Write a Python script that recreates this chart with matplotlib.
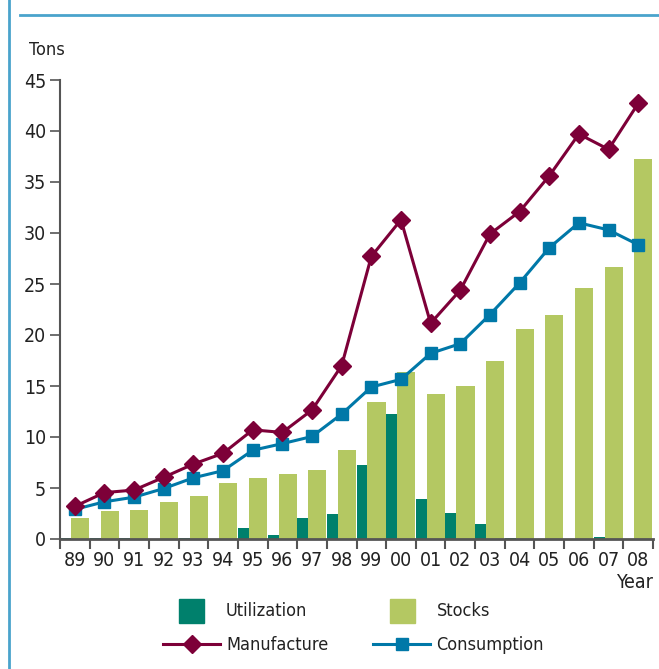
import numpy as np
import matplotlib
matplotlib.use('Agg')
import matplotlib.pyplot as plt
from matplotlib.patches import Rectangle
from matplotlib.lines import Line2D

plt.rcParams['font.family'] = ['DejaVu Sans']
plt.rcParams['font.stretch'] = 'condensed'

# Data
years = ['89', '90', '91', '92', '93', '94', '95', '96', '97', '98',
         '99', '00', '01', '02', '03', '04', '05', '06', '07', '08']
utilization = [0.05, 0.05, 0.05, 0.0, 0.05, 0.0, 1.1, 0.4, 2.1, 2.45,
               7.25, 12.25, 3.9, 2.55, 1.45, 0.05, 0.0, 0.0, 0.2, 0.0]
stocks = [2.05, 2.75, 2.85, 3.65, 4.2, 5.5, 6.0, 6.4, 6.75, 8.7,
          13.4, 16.4, 14.2, 15.0, 17.45, 20.6, 21.95, 24.6, 26.65, 37.25]
manufacture = [3.2, 4.55, 4.8, 6.05, 7.35, 8.4, 10.7, 10.45, 12.65, 17.0,
               27.7, 31.3, 21.15, 24.4, 29.9, 32.1, 35.6, 39.7, 38.2, 42.7]
consumption = [2.9, 3.65, 4.1, 4.95, 6.0, 6.7, 8.7, 9.35, 10.05, 12.25,
               14.9, 15.65, 18.2, 19.15, 22.0, 25.1, 28.55, 31.0, 30.3, 28.85]

c_util = '#00806c'
c_stock = '#b4c862'
c_manu = '#7d0038'
c_cons = '#0078a8'
c_frame = '#4aa3cc'
c_axis = '#555555'
c_text = '#222222'

W, H = 659, 669
fig = plt.figure(figsize=(W / 100, H / 100), dpi=100)
ax = fig.add_axes([60 / W, (H - 539) / H, 593 / W, 459 / H])

x = np.arange(len(years))
ax.bar(x - 0.5, utilization, width=0.37, align='edge', color=c_util, zorder=2)
ax.bar(x - 0.13, stocks, width=0.61, align='edge', color=c_stock, zorder=2)
ax.plot(x, manufacture, color=c_manu, lw=2.2, marker='D', ms=9, zorder=4)
ax.plot(x, consumption, color=c_cons, lw=2.2, marker='s', ms=9, zorder=3)

ax.set_xlim(-0.5, len(years) - 0.5)
ax.set_ylim(0, 45)
ax.set_yticks(range(0, 50, 5))
ax.set_xticks(np.arange(-0.5, len(years), 1.0))
ax.set_xticklabels([])
ax.set_xticks(x, minor=True)
ax.set_xticklabels(years, minor=True)
ax.tick_params(axis='x', which='major', direction='out', length=7, width=1.5, color=c_axis)
ax.tick_params(axis='x', which='minor', length=0, pad=9, labelsize=14, labelcolor=c_text)
ax.tick_params(axis='y', direction='out', length=7, width=1.2, color=c_axis,
               labelsize=14, labelcolor=c_text, pad=3)
for s in ['top', 'right']:
    ax.spines[s].set_visible(False)
ax.spines['left'].set_color(c_axis)
ax.spines['left'].set_linewidth(1.5)
ax.spines['bottom'].set_color(c_axis)
ax.spines['bottom'].set_linewidth(2)
ax.spines['bottom'].set_zorder(5)

fig.text(47 / W, 1 - 50 / H, 'Tons', ha='center', va='center', fontsize=13, color=c_text)
fig.text(653 / W, 1 - 583 / H, 'Year', ha='right', va='center', fontsize=14, color=c_text)

# frame lines
fig.add_artist(Line2D([9 / W, 9 / W], [0, 1], color=c_frame, lw=2))
fig.add_artist(Line2D([20 / W, 1], [1 - 15 / H, 1 - 15 / H], color=c_frame, lw=2))

# legend
def px(xp, yp):
    return xp / W, 1 - yp / H

for (x0, lab, col) in [(179, 'Utilization', c_util), (390, 'Stocks', c_stock)]:
    fig.add_artist(Rectangle(px(x0, 623), 25 / W, 24 / H, color=col, transform=fig.transFigure))
    fig.text(*px(x0 + 47, 611), lab, ha='left', va='center', fontsize=13, color=c_text)
for (x0, lab, col, mk) in [(163, 'Manufacture', c_manu, 'D'), (373, 'Consumption', c_cons, 's')]:
    fig.add_artist(Line2D([x0 / W, (x0 + 57) / W], [1 - 644 / H] * 2, color=col, lw=2.2))
    fig.add_artist(Line2D([(x0 + 28.5) / W], [1 - 644 / H], color=col, marker=mk, ms=9, lw=0))
    fig.text(*px(x0 + 63, 645), lab, ha='left', va='center', fontsize=13, color=c_text)

fig.savefig('out.png', dpi=100)
